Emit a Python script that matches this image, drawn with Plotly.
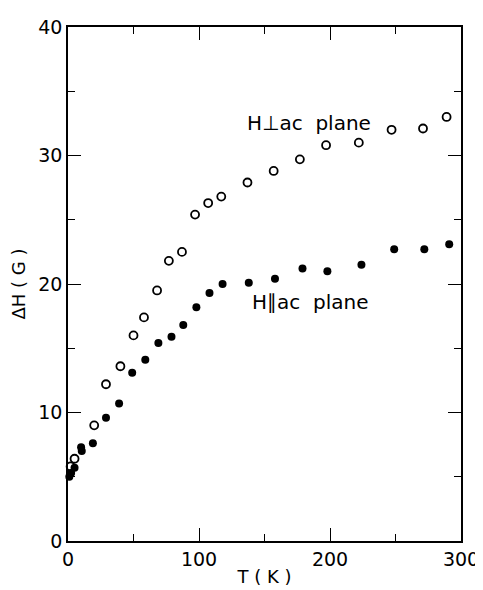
import plotly.graph_objects as go

# H perpendicular to ac plane (open circles)
t_perp = [2, 5, 20, 29, 40, 50, 58, 68, 77, 87, 97, 107, 117, 137, 157, 177, 197, 222, 247, 271, 289]
dh_perp = [5.8, 6.4, 9.0, 12.2, 13.6, 16.0, 17.4, 19.5, 21.8, 22.5, 25.4, 26.3, 26.8, 27.9, 28.8, 29.7, 30.8, 31.0, 32.0, 32.1, 33.0]

# H parallel to ac plane (filled circles)
t_par = [1, 2.4, 5, 10, 10.5, 19, 29, 39, 49, 59, 69, 79, 88, 98, 108, 118, 138, 158, 179, 198, 224, 249, 272, 291]
dh_par = [5.0, 5.3, 5.7, 7.3, 7.0, 7.6, 9.6, 10.7, 13.1, 14.1, 15.4, 15.9, 16.8, 18.2, 19.3, 20.0, 20.1, 20.4, 21.2, 21.0, 21.5, 22.7, 22.7, 23.1]

x_ticks = [0, 100, 200, 300]
y_ticks = [0, 10, 20, 30, 40]

FONT = "DejaVu Sans"

fig = go.Figure()
fig.add_trace(go.Scatter(
    x=t_perp, y=dh_perp, mode="markers",
    marker=dict(symbol="circle-open", size=8, color="black", line=dict(width=1.8, color="black")),
    showlegend=False, cliponaxis=False))
fig.add_trace(go.Scatter(
    x=t_par, y=dh_par, mode="markers",
    marker=dict(symbol="circle", size=8, color="black"),
    showlegend=False, cliponaxis=False))

axis_common = dict(
    showgrid=False, zeroline=False, showline=True, linecolor="black", linewidth=1.5,
    mirror="allticks", ticks="inside", ticklen=13, tickwidth=1.3, tickcolor="black",
    tickfont=dict(family=FONT, size=19, color="black"), automargin=False,
)

fig.update_xaxes(range=[0, 300], tickvals=x_ticks, ticktext=[str(v) for v in x_ticks],
                 minor=dict(tickvals=[50, 150, 250], ticklen=7, tickwidth=1.3, ticks="inside", tickcolor="black"),
                 title=dict(text="T ( K )", font=dict(family=FONT, size=18, color="black"), standoff=2),
                 **axis_common)
fig.update_yaxes(range=[0, 40], tickvals=y_ticks, ticktext=[str(v) for v in y_ticks],
                 minor=dict(tickvals=[5, 15, 25, 35], ticklen=7, tickwidth=1.3, ticks="inside", tickcolor="black"),
                 title=dict(text="ΔH ( G )", font=dict(family=FONT, size=18, color="black"), standoff=8),
                 **axis_common)

fig.add_annotation(x=184, y=32.5, text="H⊥ac  plane", showarrow=False,
                   font=dict(family=FONT, size=20, color="black"))
fig.add_annotation(x=185, y=18.6, text="H∥ac  plane", showarrow=False,
                   font=dict(family=FONT, size=20, color="black"))

fig.update_layout(
    width=475, height=582,
    margin=dict(l=60, r=22, t=19, b=49),
    plot_bgcolor="white", paper_bgcolor="white",
)

fig.write_html("out.html")
